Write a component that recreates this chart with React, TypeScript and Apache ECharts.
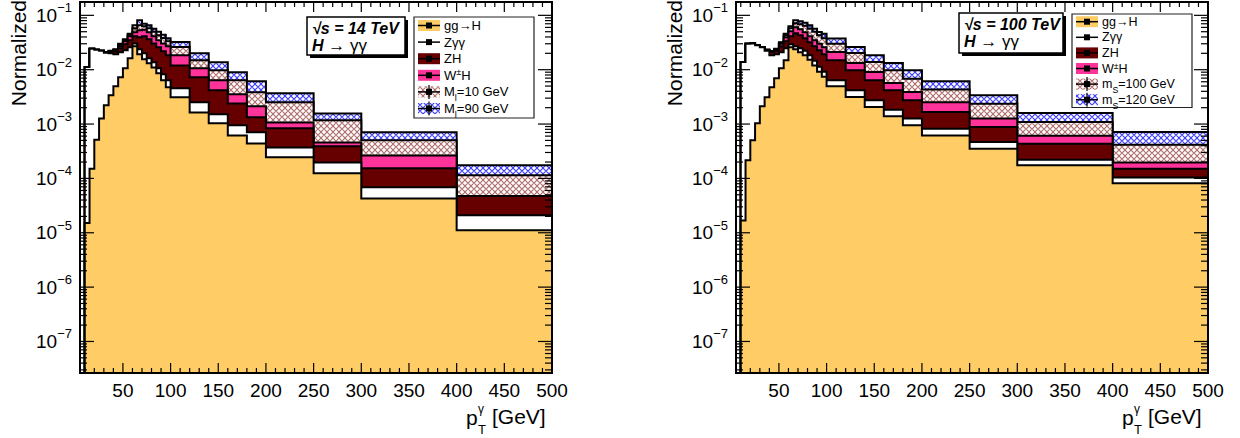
import React, { useEffect, useRef } from "react";
import * as echarts from "echarts";

const FF = "'Liberation Sans', Arial, Helvetica, sans-serif";

// bin edges of the histograms (GeV)
const binEdges = [10, 15, 20, 25, 30, 35, 40, 45, 50, 55, 60, 65, 70, 75, 80, 85, 90, 95, 100, 120, 140, 160, 180, 200, 250, 300, 400, 500];
const xTickLabels = [50, 100, 150, 200, 250, 300, 350, 400, 450, 500];

// 14 TeV: stacked (cumulative) heights as drawn, bottom layer first
const s14_ggH = [1.51e-5, 1.51e-4, 5.16e-4, 1.26e-3, 2.21e-3, 3.37e-3, 4.94e-3, 7.23e-3, 0.0106, 0.0162, 0.0269, 0.0192, 0.0155, 0.0131, 0.0110, 8.57e-3, 6.37e-3, 4.73e-3, 3.10e-3, 1.64e-3, 1.03e-3, 6.19e-4, 4.41e-4, 2.44e-4, 1.24e-4, 4.29e-5, 1.11e-5];
const s14_Zgg = [0.0112, 0.0244, 0.0234, 0.0222, 0.0204, 0.0200, 0.0192, 0.0209, 0.0227, 0.0258, 0.0305, 0.0237, 0.0200, 0.0162, 0.0137, 0.0106, 8.21e-3, 6.37e-3, 4.54e-3, 2.51e-3, 1.51e-3, 9.46e-4, 7.03e-4, 3.72e-4, 1.97e-4, 6.84e-5, 2.09e-5];
const s14_ZH = [0.0112, 0.0244, 0.0234, 0.0222, 0.0206, 0.0213, 0.0218, 0.0247, 0.0293, 0.0347, 0.0411, 0.0394, 0.0411, 0.0362, 0.0305, 0.0258, 0.0218, 0.0184, 0.0120, 7.23e-3, 4.17e-3, 2.40e-3, 1.33e-3, 8.34e-4, 3.89e-4, 1.53e-4, 4.77e-5];
const s14_WH = [0.0112, 0.0244, 0.0234, 0.0222, 0.0207, 0.0218, 0.0227, 0.0269, 0.0333, 0.0411, 0.0487, 0.0530, 0.0541, 0.0487, 0.0411, 0.0347, 0.0305, 0.0269, 0.0184, 0.0106, 6.37e-3, 3.52e-3, 2.12e-3, 1.07e-3, 4.60e-4, 2.65e-4, 4.77e-5];
const s14_M10 = [0.0112, 0.0244, 0.0234, 0.0222, 0.0208, 0.0221, 0.0232, 0.0287, 0.0347, 0.0438, 0.0577, 0.0655, 0.0628, 0.0577, 0.0497, 0.0429, 0.0385, 0.0333, 0.0261, 0.0149, 9.73e-3, 6.37e-3, 3.83e-3, 2.51e-3, 1.17e-3, 5.01e-4, 1.14e-4];
const s14_M90 = [0.0112, 0.0244, 0.0234, 0.0222, 0.0209, 0.0224, 0.0237, 0.0299, 0.0362, 0.0457, 0.0655, 0.0809, 0.0698, 0.0655, 0.0565, 0.0497, 0.0438, 0.0378, 0.0323, 0.0200, 0.0137, 8.94e-3, 6.11e-3, 3.67e-3, 1.57e-3, 7.03e-4, 1.74e-4];

// 100 TeV: stacked (cumulative) heights as drawn, bottom layer first
const s100_ggH = [1.69e-5, 2.15e-4, 5.01e-4, 1.03e-3, 2.12e-3, 3.10e-3, 4.73e-3, 6.93e-3, 0.0106, 0.0149, 0.0258, 0.0237, 0.0209, 0.0184, 0.0152, 0.0120, 9.12e-3, 7.38e-3, 4.94e-3, 3.14e-3, 2.06e-3, 1.39e-3, 9.46e-4, 6.19e-4, 3.52e-4, 1.74e-4, 8.11e-5];
const s100_Zgg = [0.0138, 0.0301, 0.0305, 0.0281, 0.0258, 0.0222, 0.0184, 0.0192, 0.0209, 0.0247, 0.0293, 0.0269, 0.0247, 0.0222, 0.0184, 0.0146, 0.0113, 9.12e-3, 6.37e-3, 4.17e-3, 2.73e-3, 1.84e-3, 1.26e-3, 8.23e-4, 4.67e-4, 2.21e-4, 1.04e-4];
const s100_ZH = [0.0138, 0.0301, 0.0305, 0.0281, 0.0259, 0.0229, 0.0213, 0.0222, 0.0269, 0.0333, 0.0411, 0.0467, 0.0429, 0.0378, 0.0319, 0.0269, 0.0227, 0.0192, 0.0149, 9.73e-3, 6.37e-3, 4.17e-3, 2.73e-3, 1.66e-3, 8.81e-4, 4.36e-4, 1.51e-4];
const s100_WH = [0.0138, 0.0301, 0.0305, 0.0281, 0.0260, 0.0232, 0.0218, 0.0232, 0.0299, 0.0394, 0.0508, 0.0601, 0.0552, 0.0487, 0.0411, 0.0347, 0.0299, 0.0258, 0.0211, 0.0133, 9.06e-3, 5.68e-3, 3.88e-3, 2.51e-3, 1.26e-3, 6.07e-4, 1.97e-4];
const s100_mS100 = [0.0138, 0.0301, 0.0305, 0.0281, 0.0261, 0.0233, 0.0219, 0.0239, 0.0312, 0.0429, 0.0577, 0.0713, 0.0683, 0.0641, 0.0565, 0.0497, 0.0429, 0.0378, 0.0301, 0.0202, 0.0138, 9.73e-3, 6.84e-3, 4.30e-3, 2.37e-3, 1.09e-3, 4.14e-4];
const s100_mS120 = [0.0138, 0.0301, 0.0305, 0.0281, 0.0261, 0.0234, 0.0220, 0.0244, 0.0319, 0.0460, 0.0628, 0.0809, 0.0776, 0.0728, 0.0655, 0.0569, 0.0493, 0.0460, 0.0373, 0.0261, 0.0184, 0.0133, 9.73e-3, 6.11e-3, 3.37e-3, 1.59e-3, 7.13e-4];

const legend14 = ["{t|gg→H}", "{t|Zγγ}", "{t|ZH}", "{t|W}{sup|±}{t|H}", "{t|M}{sub|l}{t|=10 GeV}", "{t|M}{sub|l}{t|=90 GeV}"];
const legend100 = ["{t|gg→H}", "{t|Zγγ}", "{t|ZH}", "{t|W}{sup|±}{t|H}", "{t|m}{sub|S}{t|=100 GeV}", "{t|m}{sub|S}{t|=120 GeV}"];
const energy14 = "√s = 14 TeV";
const energy100 = "√s = 100 TeV";

const X_MIN = 5;
const X_MAX = 500;
const Y_MIN = 2.63e-8;
const Y_MAX = 0.176;

export default function App() {
  const ref = useRef<HTMLDivElement>(null);
  useEffect(() => {
    if (!ref.current) return;
    const chart = echarts.init(ref.current, undefined, { renderer: "svg" });

    const hatch = (color: string) => {
      const n = 6;
      const c = document.createElement("canvas");
      c.width = n;
      c.height = n;
      const g = c.getContext("2d")!;
      g.fillStyle = "#ffffff";
      g.fillRect(0, 0, n, n);
      g.strokeStyle = color;
      g.lineWidth = 1.1;
      g.beginPath();
      g.moveTo(0, n / 2);
      g.lineTo(n / 2, 0);
      g.lineTo(n, n / 2);
      g.lineTo(n / 2, n);
      g.closePath();
      g.stroke();
      return { image: c.toDataURL(), repeat: "repeat", imageWidth: n, imageHeight: n } as any;
    };
    const brownHatch = hatch("#b07070");
    const blueHatch = hatch("#4040ff");
    const fills: any[] = ["#ffcc66", "#ffffff", "#660000", "#ff3399", brownHatch, blueHatch];

    const stacks14 = [s14_ggH, s14_Zgg, s14_ZH, s14_WH, s14_M10, s14_M90];
    const stacks100 = [s100_ggH, s100_Zgg, s100_ZH, s100_WH, s100_mS100, s100_mS120];

    const histRender = (stacks: number[][]) => (params: any, api: any) => {
      const li = api.value(2);
      const vals = stacks[li];
      const c = (x: number, y: number) => api.coord([x, Math.max(y, Y_MIN)]);
      const pts: number[][] = [c(binEdges[0], Y_MIN)];
      for (let i = 0; i < vals.length; i++) {
        pts.push(c(binEdges[i], vals[i]));
        pts.push(c(binEdges[i + 1], vals[i]));
      }
      pts.push(c(binEdges[binEdges.length - 1], Y_MIN));
      return {
        type: "group",
        children: [
          { type: "polygon", shape: { points: pts }, style: { fill: fills[li], stroke: null } },
          { type: "polyline", shape: { points: pts }, style: { stroke: "#000", lineWidth: 2, fill: null } },
        ],
      };
    };

    // tick marks (axis decoration)
    const tickRows: number[][] = [];
    for (let v = 10; v < 500; v += 10) tickRows.push([v, 1e-3, v % 50 === 0 ? 0 : 1]);
    tickRows.push([500, 1e-3, 0]);
    for (let e = -8; e <= -1; e++) {
      for (let k = 1; k <= 9; k++) {
        const v = k * Math.pow(10, e);
        if (v >= Y_MIN && v <= Y_MAX) tickRows.push([100, v, k === 1 ? 2 : 3]);
      }
    }
    const tickRender = (params: any, api: any) => {
      const kind = api.value(2);
      const cs = params.coordSys;
      const st = { stroke: "#000", lineWidth: 1.2 };
      if (kind < 2) {
        const px = api.coord([api.value(0), 1e-3])[0];
        const len = kind === 0 ? 10 : 5;
        return {
          type: "group",
          children: [
            { type: "line", shape: { x1: px, y1: cs.y + cs.height, x2: px, y2: cs.y + cs.height - len }, style: st },
            { type: "line", shape: { x1: px, y1: cs.y, x2: px, y2: cs.y + len }, style: st },
          ],
        };
      }
      const py = api.coord([100, api.value(1)])[1];
      const len = kind === 2 ? 14 : 7;
      return {
        type: "group",
        children: [
          { type: "line", shape: { x1: cs.x, y1: py, x2: cs.x + len, y2: py }, style: st },
          { type: "line", shape: { x1: cs.x + cs.width, y1: py, x2: cs.x + cs.width - len, y2: py }, style: st },
        ],
      };
    };

    const histData = [5, 4, 3, 2, 1, 0].map((i) => [100, 1e-3, i]);

    const yLabelFmt = (v: number) => {
      const e = Math.log10(v);
      const r = Math.round(e);
      if (Math.abs(e - r) > 0.01) return "";
      return `{b|10}{s|${r < 0 ? "\u2212" + -r : r}}`;
    };

    const xAxes = [0, 1].map((g) => ({
      type: "value",
      gridIndex: g,
      min: X_MIN,
      max: X_MAX,
      axisLine: { show: false },
      axisTick: { show: false },
      splitLine: { show: false },
      axisLabel: { customValues: xTickLabels, fontSize: 19, color: "#000", fontFamily: FF, margin: 8 },
    }));
    const yAxes = [0, 1].map((g) => ({
      type: "log",
      logBase: 10,
      gridIndex: g,
      min: Y_MIN,
      max: Y_MAX,
      axisLine: { show: false },
      axisTick: { show: false },
      splitLine: { show: false },
      axisLabel: {
        formatter: yLabelFmt,
        margin: 8,
        color: "#000",
        rich: {
          b: { fontSize: 19, fontFamily: FF, color: "#000", lineHeight: 28 },
          s: { fontSize: 13, fontFamily: FF, color: "#000", lineHeight: 10, verticalAlign: "top" },
        },
      },
    }));

    const richLegend = (size: number) => ({
      t: { fontSize: size, fontFamily: FF, color: "#000" },
      sub: { fontSize: size * 0.7, fontFamily: FF, color: "#000", verticalAlign: "bottom", padding: [0, 0, -4, 0] },
      sup: { fontSize: size * 0.7, fontFamily: FF, color: "#000", verticalAlign: "top", padding: [0, 0, 6, 0] },
    });

    const txt = (x: number, y: number, text: string, size: number, extra: any = {}) => ({
      type: "text", z: 100, x, y,
      style: { text, fontSize: size, fontFamily: FF, fill: "#000000", align: "left", verticalAlign: "middle", ...extra },
    });

    const panelGraphics = (ox: number, energy: string, legend: string[], tb: any, lb: any) => {
      const els: any[] = [];
      // frame
      els.push({ type: "rect", z: 100, shape: { x: 80 + ox, y: 2, width: 472, height: 371 }, style: { fill: "none", stroke: "#000", lineWidth: 2 } });
      // y title
      els.push({ type: "text", z: 100, x: 18 + ox, y: 0, rotation: Math.PI / 2, style: { text: "Normalized", fontSize: 21, fontFamily: FF, fill: "#000000", align: "right", verticalAlign: "middle" } });
      // x title
      els.push(txt(466 + ox, 417, "p", 21));
      els.push(txt(478 + ox, 409, "γ", 12));
      els.push({
        type: "text", z: 100, x: 478 + ox, y: 429,
        style: { text: "{t|T}", verticalAlign: "middle", rich: { t: { fontSize: 13, fontFamily: FF, color: "#000", fill: "#000" } } },
      });
      els.push(txt(492 + ox, 416, "[GeV]", 21));
      // energy box with shadow
      els.push({ type: "rect", z: 100, shape: { x: tb.x + 3, y: tb.y + 3, width: tb.w, height: tb.h }, style: { fill: "#000" } });
      els.push({ type: "rect", z: 101, shape: { x: tb.x, y: tb.y, width: tb.w, height: tb.h }, style: { fill: "#fff", stroke: "#000", lineWidth: 1.5 } });
      els.push({ type: "text", z: 102, x: tb.x + 5, y: tb.y + 11, style: { text: energy, fontSize: 16, fontWeight: "bold", fontStyle: "italic", fontFamily: FF, fill: "#000", verticalAlign: "middle" } });
      els.push({
        type: "text", z: 102, x: tb.x + 5, y: tb.y + 28,
        style: {
          text: "{h|H}{n| → γγ}", verticalAlign: "middle",
          rich: {
            h: { fontSize: 16, fontWeight: "bold", fontStyle: "italic", fontFamily: FF, fill: "#000", color: "#000" },
            n: { fontSize: 17, fontFamily: FF, fill: "#000", color: "#000" },
          },
        },
      });
      // legend
      els.push({ type: "rect", z: 100, shape: { x: lb.x, y: lb.y, width: lb.w, height: lb.h }, style: { fill: "#fff", stroke: "#222", lineWidth: 1.2 } });
      const sx = lb.x + 4;
      const sw = 22;
      legend.forEach((lab, i) => {
        const ry = lb.y + lb.first + i * lb.step;
        if (i !== 1) {
          els.push({ type: "rect", z: 101, shape: { x: sx, y: ry - 5.5, width: sw, height: 11 }, style: { fill: fills[i] } });
        }
        els.push({ type: "line", z: 102, shape: { x1: sx, y1: ry, x2: sx + sw, y2: ry }, style: { stroke: "#000", lineWidth: 1.5 } });
        if (i >= 4) {
          els.push({ type: "line", z: 102, shape: { x1: sx + sw / 2, y1: ry - 7, x2: sx + sw / 2, y2: ry + 7 }, style: { stroke: "#000", lineWidth: 1.2 } });
        }
        els.push({ type: "rect", z: 103, shape: { x: sx + sw / 2 - 3, y: ry - 3, width: 6, height: 6 }, style: { fill: "#000" } });
        els.push({ type: "text", z: 102, x: lb.x + 30, y: ry, style: { text: lab, verticalAlign: "middle", rich: richLegend(lb.font) } });
      });
      return els;
    };

    const option: any = {
      animation: false,
      backgroundColor: "#fff",
      grid: [
        { left: 80, top: 2, width: 472, height: 371, containLabel: false },
        { left: 736, top: 2, width: 472, height: 371, containLabel: false },
      ],
      xAxis: xAxes,
      yAxis: yAxes,
      series: [
        { type: "custom", xAxisIndex: 0, yAxisIndex: 0, encode: { x: 0, y: 1 }, data: histData, renderItem: histRender(stacks14), clip: true, z: 2, silent: true },
        { type: "custom", xAxisIndex: 1, yAxisIndex: 1, encode: { x: 0, y: 1 }, data: histData, renderItem: histRender(stacks100), clip: true, z: 2, silent: true },
        { type: "custom", xAxisIndex: 0, yAxisIndex: 0, encode: { x: 0, y: 1 }, data: tickRows, renderItem: tickRender, z: 5, silent: true },
        { type: "custom", xAxisIndex: 1, yAxisIndex: 1, encode: { x: 0, y: 1 }, data: tickRows, renderItem: tickRender, z: 5, silent: true },
      ],
      graphic: [
        ...panelGraphics(0, energy14, legend14, { x: 307, y: 17, w: 98, h: 38 }, { x: 414, y: 17, w: 120, h: 101, first: 8.5, step: 16.6, font: 13 }),
        ...panelGraphics(656, energy100, legend100, { x: 959, y: 13, w: 104, h: 40 }, { x: 1072, y: 14, w: 120, h: 93.5, first: 7.7, step: 15.6, font: 12.5 }),
      ],
    };
    chart.setOption(option);
    return () => chart.dispose();
  }, []);
  return <div ref={ref} style={{ position: "absolute", left: 0, top: 0, width: 1240, height: 438 }} />;
}
